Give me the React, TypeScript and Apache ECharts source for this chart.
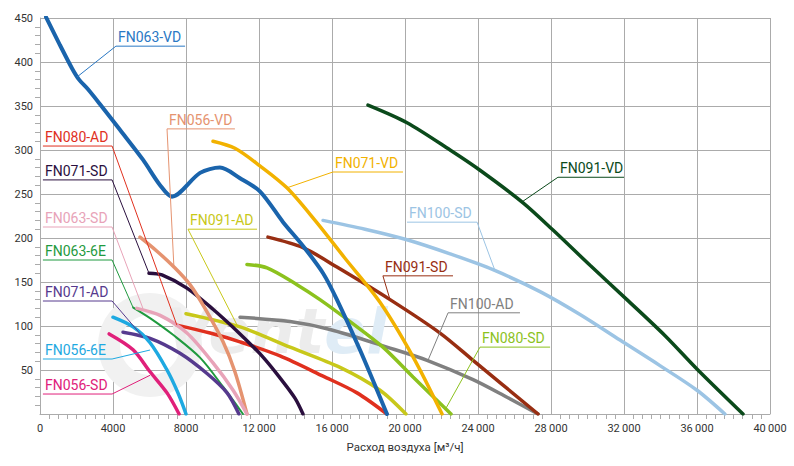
import React, { useEffect, useRef } from "react";
import * as echarts from "echarts";

// Airflow (m³/h) vs pressure (Pa) curves
const FN063_VD = [[330,451],[1100,419],[1750,393],[2140,380],[2630,369],[3290,352],[4380,323],[5640,289],[6580,260],[7230,247],[8770,274],[9860,280],[10960,268],[12050,253],[13320,218],[14410,191],[15510,160],[16270,130],[17530,73],[19010,0]];
const FN091_VD = [[17970,351],[20110,331],[22470,300],[24110,277],[26470,240],[28110,209],[30140,169],[32160,130],[34250,89],[36050,50],[38520,0]];
const FN100_SD = [[15510,220],[17810,210],[20110,198],[22470,182],[24820,164],[27400,139],[29590,113],[31780,84],[33970,55],[36000,27],[37530,0]];
const FN071_VD = [[9480,310],[10680,302],[12050,282],[13530,257],[15070,220],[16710,177],[18630,127],[20440,65],[22030,0]];
const FN091_SD = [[12490,201],[14410,189],[16270,167],[19180,130],[21920,92],[23730,61],[27290,0]];
const FN100_AD = [[10960,110],[13700,105],[15890,96],[19010,76],[21210,61],[23730,39],[25590,19],[27290,0]];
const FN080_SD = [[11340,170],[12440,166],[14080,147],[15340,130],[16990,105],[18790,76],[20440,42],[21530,20],[22520,0]];
const FN091_AD = [[8000,114],[10960,99],[13700,76],[16440,53],[18630,27],[20050,0]];
const FN080_AD = [[7500,101],[9320,92],[10960,82],[13150,66],[15510,43],[17370,24],[19010,0]];
const FN056_VD = [[5480,201],[6410,185],[7340,167],[8220,147],[9040,120],[10030,82],[10680,48],[11340,0]];
const FN071_SD = [[5970,160],[6680,158],[8050,143],[9480,119],[10960,91],[12160,66],[13150,41],[13970,18],[14410,0]];
const FN063_SD = [[5310,120],[6580,112],[8050,92],[9480,58],[10580,27],[11340,0]];
const FN063_6E = [[5110,121],[6030,109],[7290,90],[8770,64],[10030,31],[11120,0]];
const FN071_AD = [[4550,93],[6030,86],[7670,69],[9150,46],[10250,24],[10900,0]];
const FN056_6E = [[4000,110],[5100,99],[6030,81],[6960,50],[7560,24],[8000,0]];
const FN056_SD = [[3790,91],[5100,73],[6030,48],[6960,24],[7620,0]];

const X_TICKS = [0,4000,8000,12000,16000,20000,24000,28000,32000,36000,40000];
const Y_TICKS = [50,100,150,200,250,300,350,400,450];

type Curve = { name: string; data: number[][]; color: string; width: number };
const CURVES: Curve[] = [
  { name: "FN091-VD", data: FN091_VD, color: "#0b4a1b", width: 3.5 },
  { name: "FN100-SD", data: FN100_SD, color: "#9cc4e4", width: 3.5 },
  { name: "FN100-AD", data: FN100_AD, color: "#808080", width: 3.5 },
  { name: "FN091-SD", data: FN091_SD, color: "#982e12", width: 3.5 },
  { name: "FN080-SD", data: FN080_SD, color: "#8cc21e", width: 3.5 },
  { name: "FN071-VD", data: FN071_VD, color: "#f2b200", width: 3.5 },
  { name: "FN091-AD", data: FN091_AD, color: "#c8c81a", width: 3.5 },
  { name: "FN080-AD", data: FN080_AD, color: "#e0301e", width: 3.5 },
  { name: "FN063-VD", data: FN063_VD, color: "#1a64ac", width: 4 },
  { name: "FN071-SD", data: FN071_SD, color: "#2a0f3e", width: 3.5 },
  { name: "FN056-VD", data: FN056_VD, color: "#e59370", width: 3.5 },
  { name: "FN063-6E", data: FN063_6E, color: "#1f9a3e", width: 2 },
  { name: "FN063-SD", data: FN063_SD, color: "#e8a3b8", width: 3.5 },
  { name: "FN071-AD", data: FN071_AD, color: "#563a8e", width: 3.5 },
  { name: "FN056-6E", data: FN056_6E, color: "#1ea9e1", width: 3.5 },
  { name: "FN056-SD", data: FN056_SD, color: "#e0207a", width: 3.5 },
];

// annotation: underline from x1..x2 at y, leader from (side) end to target
type Ann = { name: string; color: string; x1: number; x2: number; y: number; tx: number; ty: number; side: "l" | "r" };
const ANNS: Ann[] = [
  { name: "FN063-VD", color: "#2a78c4", x1: 4160, x2: 7950, y: 418, tx: 2030, ty: 383, side: "l" },
  { name: "FN080-AD", color: "#e0301e", x1: 160, x2: 3950, y: 304.5, tx: 7500, ty: 101, side: "r" },
  { name: "FN071-SD", color: "#2a0f3e", x1: 160, x2: 3950, y: 266, tx: 5970, ty: 160, side: "r" },
  { name: "FN063-SD", color: "#e8a3b8", x1: 160, x2: 3950, y: 212.5, tx: 5640, ty: 120, side: "r" },
  { name: "FN063-6E", color: "#1f9a3e", x1: 160, x2: 3950, y: 175, tx: 5100, ty: 121, side: "r" },
  { name: "FN071-AD", color: "#563a8e", x1: 160, x2: 3950, y: 128.4, tx: 5640, ty: 87.5, side: "r" },
  { name: "FN056-6E", color: "#1ea9e1", x1: 160, x2: 3950, y: 62.5, tx: 6030, ty: 72.7, side: "r" },
  { name: "FN056-SD", color: "#e0207a", x1: 160, x2: 3950, y: 22.7, tx: 6030, ty: 44, side: "r" },
  { name: "FN056-VD", color: "#e59370", x1: 6960, x2: 10680, y: 324, tx: 7340, ty: 166, side: "l" },
  { name: "FN091-AD", color: "#c8c81a", x1: 8110, x2: 11890, y: 210, tx: 10850, ty: 99, side: "l" },
  { name: "FN071-VD", color: "#f2b200", x1: 16050, x2: 19890, y: 275, tx: 13530, ty: 257, side: "l" },
  { name: "FN091-VD", color: "#0b4a1b", x1: 28380, x2: 32000, y: 269, tx: 26410, ty: 241, side: "l" },
  { name: "FN100-SD", color: "#9cc4e4", x1: 20110, x2: 23950, y: 218, tx: 24930, ty: 163, side: "r" },
  { name: "FN091-SD", color: "#982e12", x1: 18790, x2: 22630, y: 157, tx: 19180, ty: 130, side: "l" },
  { name: "FN100-AD", color: "#808080", x1: 22360, x2: 26300, y: 115, tx: 21260, ty: 61, side: "l" },
  { name: "FN080-SD", color: "#8cc21e", x1: 24110, x2: 27950, y: 76, tx: 22190, ty: 4.5, side: "l" },
];

const FONT = "Roboto, 'DejaVu Sans', sans-serif";

function fmtX(v: number): string {
  if (v >= 10000) {
    const s = String(v);
    return s.slice(0, s.length - 3) + "\u2009" + s.slice(-3);
  }
  return String(v);
}

export default function App() {
  const ref = useRef<HTMLDivElement>(null);
  useEffect(() => {
    if (!ref.current) return;
    const chart = echarts.init(ref.current, undefined, { renderer: "svg" });
    const gridColor = "#ababab";
    chart.setOption({
      animation: false,
      backgroundColor: "#ffffff",
      grid: { left: 40, right: 24, top: 18, bottom: 52 },
      xAxis: {
        type: "value",
        min: 0,
        max: 40000,
        interval: 4000,
        name: "Расход воздуха [м³/ч]",
        nameLocation: "middle",
        nameGap: 27,
        nameTextStyle: { color: "#333", fontSize: 11.5, fontFamily: FONT },
        axisLine: { show: true, lineStyle: { color: gridColor, width: 1 } },
        axisTick: { show: false },
        minorTick: { show: true, splitNumber: 8, length: 5, lineStyle: { color: gridColor } },
        splitLine: { show: true, lineStyle: { color: gridColor, width: 1 } },
        axisLabel: {
          color: "#333",
          fontSize: 11,
          fontFamily: FONT,
          margin: 9,
          customValues: X_TICKS,
          formatter: (v: number) => fmtX(v),
        },
      },
      yAxis: {
        type: "value",
        min: 0,
        max: 450,
        interval: 50,
        axisLine: { show: true, lineStyle: { color: gridColor, width: 1 } },
        axisTick: { show: false },
        minorTick: { show: true, splitNumber: 5, length: 5, lineStyle: { color: gridColor } },
        splitLine: { show: true, lineStyle: { color: gridColor, width: 1 } },
        axisLabel: {
          color: "#333",
          fontSize: 11,
          fontFamily: FONT,
          margin: 7,
          formatter: (v: number) => (Y_TICKS.indexOf(v) >= 0 ? String(v) : ""),
        },
      },
      series: CURVES.map((c) => ({
        type: "line",
        name: c.name,
        data: c.data,
        smooth: 0.3,
        showSymbol: false,
        symbol: "none",
        lineStyle: { color: c.color, width: c.width, cap: "round" },
        itemStyle: { color: c.color },
        z: 3,
      })),
    });

    const g: any[] = [];
    // faint watermark
    g.push({
      type: "ring",
      shape: { cx: 150, cy: 345, r: 52, r0: 30 },
      z: 1,
      silent: true,
      style: { fill: "#f1f1f1" },
    });
    g.push({
      type: "text",
      left: 165,
      top: 300,
      z: 1,
      silent: true,
      style: {
        text: "{a|Vent}{b|el}",
        rich: {
          a: { fill: "#ececec", font: "italic bold 62px 'DejaVu Sans', sans-serif" },
          b: { fill: "#dfecf6", font: "italic bold 62px 'DejaVu Sans', sans-serif" },
        },
      },
    });

    ANNS.forEach((a) => {
      const p1 = chart.convertToPixel({ xAxisIndex: 0, yAxisIndex: 0 }, [a.x1, a.y]) as number[];
      const p2 = chart.convertToPixel({ xAxisIndex: 0, yAxisIndex: 0 }, [a.x2, a.y]) as number[];
      const pt = chart.convertToPixel({ xAxisIndex: 0, yAxisIndex: 0 }, [a.tx, a.ty]) as number[];
      const start = a.side === "l" ? p1 : p2;
      const other = a.side === "l" ? p2 : p1;
      g.push({
        type: "polyline",
        z: 10,
        silent: true,
        shape: { points: [other, start, pt] },
        style: { stroke: a.color, lineWidth: 1, fill: "none" },
      });
      g.push({
        type: "text",
        z: 10,
        silent: true,
        x: p1[0] + 2,
        y: p1[1] - 2,
        style: {
          text: a.name,
          fill: a.color,
          font: `14px ${FONT}`,
          textAlign: "left",
          textVerticalAlign: "bottom",
        },
      });
    });
    chart.setOption({ graphic: g });
    return () => chart.dispose();
  }, []);
  return <div ref={ref} style={{ position: "fixed", left: 0, top: 0, width: 794, height: 466 }} />;
}
